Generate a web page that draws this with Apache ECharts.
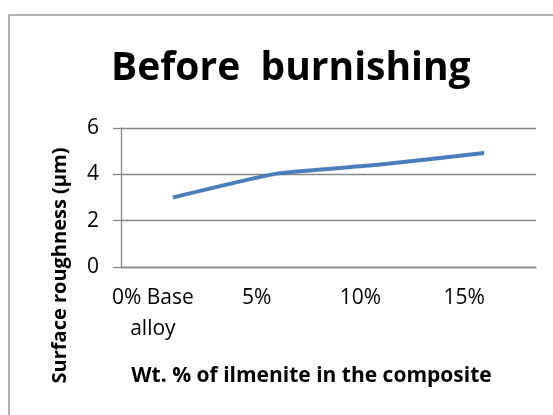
<!DOCTYPE html>
<html>
<head>
<meta charset="utf-8">
<script src="https://cdn.jsdelivr.net/npm/echarts@6/dist/echarts.min.js"></script>
<style>
  html, body { margin: 0; padding: 0; background: #fff; }
  #main { width: 553px; height: 415px; }
</style>
</head>
<body>
<div id="main"></div>
<script>
// data
let categories = ['0% Base\nalloy', '5%', '10%', '15%'];
let roughness = [3.0, 4.03, 4.42, 4.92];
let yTicks = [0, 2, 4, 6];

let chart = echarts.init(document.getElementById('main'));
let font = '"Open Sans", "Noto Sans", sans-serif';

let option = {
    animation: false,
    backgroundColor: '#fff',
    title: {
        text: 'Before  burnishing',
        left: 106,
        top: 44,
        textStyle: { fontFamily: font, fontWeight: 'bold', fontSize: 39, color: '#000' }
    },
    graphic: [{
        type: 'rect',
        shape: { x: 9, y: 15, width: 560, height: 420 },
        style: { fill: 'none', stroke: '#9a9a9a', lineWidth: 1.5 },
        silent: true
    }],
    grid: { left: 121, right: 17, top: 128, bottom: 148 },
    xAxis: {
        type: 'category',
        data: categories,
        boundaryGap: true,
        name: 'Wt. % of ilmenite in the composite',
        nameLocation: 'middle',
        nameGap: 99,
        nameTextStyle: { fontFamily: font, fontWeight: 'bold', fontSize: 21, color: '#000', padding: [0, 34, 0, 0] },
        axisLine: { lineStyle: { color: '#868686', width: 1.3 } },
        axisTick: { show: false },
        axisLabel: {
            interval: 0, hideOverlap: false,
            fontFamily: font, fontSize: 21, color: '#000', margin: 16,
            lineHeight: 31, padding: [0, 40, 0, 0]
        },
        splitLine: { show: false }
    },
    yAxis: {
        type: 'value',
        min: yTicks[0],
        max: yTicks[yTicks.length - 1],
        interval: 2,
        name: 'Surface roughness (µm)',
        nameLocation: 'middle',
        nameGap: 51,
        nameTextStyle: { fontFamily: font, fontWeight: 'bold', fontSize: 20, color: '#000', padding: [0, 136, 0, 0] },
        axisLine: { show: true, lineStyle: { color: '#868686', width: 1.3 } },
        axisTick: { show: true, length: 8, lineStyle: { color: '#868686', width: 1.3 } },
        axisLabel: { fontFamily: font, fontSize: 21, color: '#000', margin: 22 },
        splitLine: { show: true, lineStyle: { color: '#868686', width: 1.3 } }
    },
    series: [{
        type: 'line',
        data: roughness,
        smooth: 0.15,
        showSymbol: false,
        lineStyle: { color: '#4a7ebb', width: 4 },
        itemStyle: { color: '#4a7ebb' }
    }]
};
chart.setOption(option);
</script>
</body>
</html>
